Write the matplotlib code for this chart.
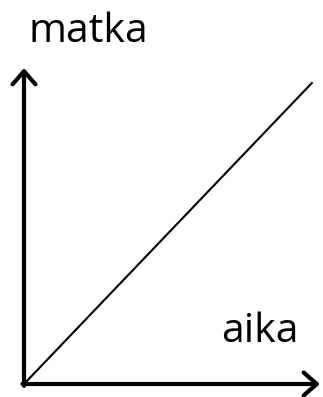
import matplotlib
matplotlib.use("Agg")
import matplotlib.pyplot as plt

# time vs distance, straight line (constant speed)
aika = [0.0, 1.0]
matka = [0.0, 1.0]
x_label = "aika"
y_label = "matka"

W, H = 323, 397
fig = plt.figure(figsize=(W / 100, H / 100), dpi=100)
# origin at ~(24, 384) px, arrow tips at x~321 and y~68
x0, y0 = 24, 384
x1, y1 = 320, 68
ax = fig.add_axes([x0 / W, 1 - y0 / H, (x1 - x0) / W, (y0 - y1) / H])
ax.set_xlim(0, 1.0 / 0.975)
ax.set_ylim(0, 1.0 / 0.955)
ax.axis("off")

ax.plot(aika, matka, color="black", lw=1.5, solid_capstyle="butt")

arrow = dict(arrowstyle="->,head_length=0.38,head_width=0.33", lw=3.0,
             color="black", mutation_scale=25, shrinkA=0, shrinkB=0)
ax.annotate("", xy=(1, 0), xytext=(-0.005, 0), xycoords="axes fraction", arrowprops=arrow)
ax.annotate("", xy=(0, 1), xytext=(0, -0.006), xycoords="axes fraction", arrowprops=arrow)

font = ["Open Sans", "DejaVu Sans"]
fig.text(29 / W, 1 - 42 / H, y_label, fontsize=29.5, family=font, va="baseline", ha="left")
fig.text(221 / W, 1 - 342 / H, x_label, fontsize=29.5, family=font, va="baseline", ha="left")

fig.savefig("out.png", dpi=100)
